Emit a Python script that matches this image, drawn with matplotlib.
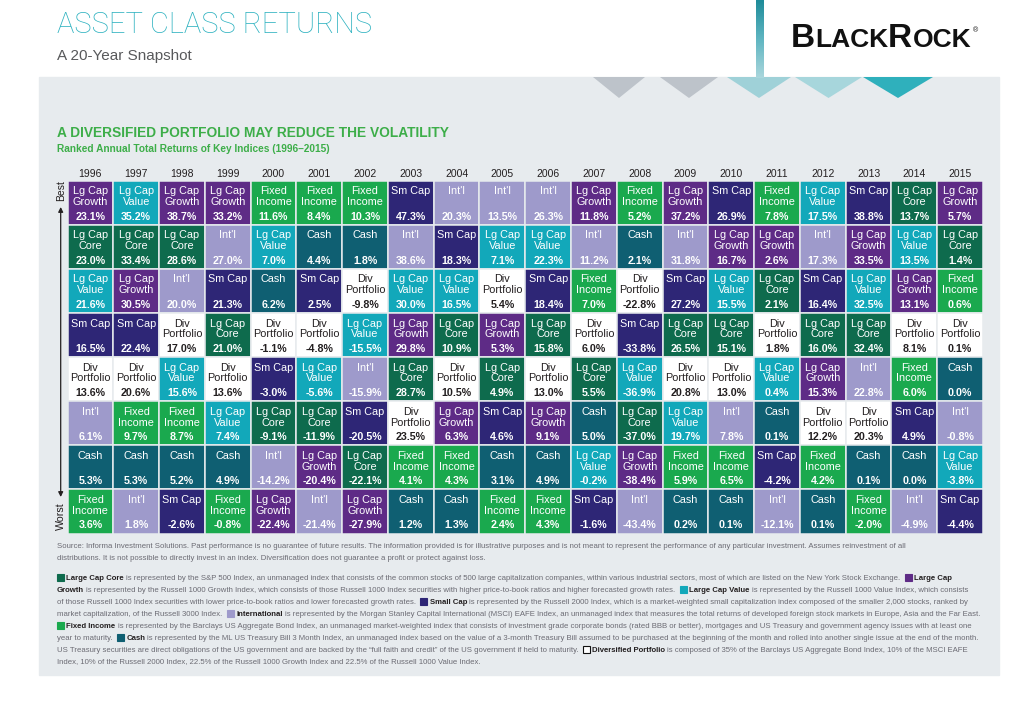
import numpy as np
import matplotlib.pyplot as plt
import matplotlib.font_manager as fm
from matplotlib.patches import Rectangle, Polygon
from matplotlib.colors import LinearSegmentedColormap

plt.rcParams['font.family'] = ['Liberation Sans', 'DejaVu Sans']

# ranked annual returns, best to worst, 1996-2015
years = list(range(1996, 2016))

ranked_assets = [
    ['LGG', 'LGC', 'LGV', 'SM', 'DIV', 'INTL', 'CASH', 'FI'],    # 1996
    ['LGV', 'LGC', 'LGG', 'SM', 'DIV', 'FI', 'CASH', 'INTL'],    # 1997
    ['LGG', 'LGC', 'INTL', 'DIV', 'LGV', 'FI', 'CASH', 'SM'],    # 1998
    ['LGG', 'INTL', 'SM', 'LGC', 'DIV', 'LGV', 'CASH', 'FI'],    # 1999
    ['FI', 'LGV', 'CASH', 'DIV', 'SM', 'LGC', 'INTL', 'LGG'],    # 2000
    ['FI', 'CASH', 'SM', 'DIV', 'LGV', 'LGC', 'LGG', 'INTL'],    # 2001
    ['FI', 'CASH', 'DIV', 'LGV', 'INTL', 'SM', 'LGC', 'LGG'],    # 2002
    ['SM', 'INTL', 'LGV', 'LGG', 'LGC', 'DIV', 'FI', 'CASH'],    # 2003
    ['INTL', 'SM', 'LGV', 'LGC', 'DIV', 'LGG', 'FI', 'CASH'],    # 2004
    ['INTL', 'LGV', 'DIV', 'LGG', 'LGC', 'SM', 'CASH', 'FI'],    # 2005
    ['INTL', 'LGV', 'SM', 'LGC', 'DIV', 'LGG', 'CASH', 'FI'],    # 2006
    ['LGG', 'INTL', 'FI', 'DIV', 'LGC', 'CASH', 'LGV', 'SM'],    # 2007
    ['FI', 'CASH', 'DIV', 'SM', 'LGV', 'LGC', 'LGG', 'INTL'],    # 2008
    ['LGG', 'INTL', 'SM', 'LGC', 'DIV', 'LGV', 'FI', 'CASH'],    # 2009
    ['SM', 'LGG', 'LGV', 'LGC', 'DIV', 'INTL', 'FI', 'CASH'],    # 2010
    ['FI', 'LGG', 'LGC', 'DIV', 'LGV', 'CASH', 'SM', 'INTL'],    # 2011
    ['LGV', 'INTL', 'SM', 'LGC', 'LGG', 'DIV', 'FI', 'CASH'],    # 2012
    ['SM', 'LGG', 'LGV', 'LGC', 'INTL', 'DIV', 'CASH', 'FI'],    # 2013
    ['LGC', 'LGV', 'LGG', 'DIV', 'FI', 'SM', 'CASH', 'INTL'],    # 2014
    ['LGG', 'LGC', 'FI', 'DIV', 'CASH', 'INTL', 'LGV', 'SM'],    # 2015
]

ranked_returns = [
    [23.1, 23.0, 21.6, 16.5, 13.6, 6.1, 5.3, 3.6],
    [35.2, 33.4, 30.5, 22.4, 20.6, 9.7, 5.3, 1.8],
    [38.7, 28.6, 20.0, 17.0, 15.6, 8.7, 5.2, -2.6],
    [33.2, 27.0, 21.3, 21.0, 13.6, 7.4, 4.9, -0.8],
    [11.6, 7.0, 6.2, -1.1, -3.0, -9.1, -14.2, -22.4],
    [8.4, 4.4, 2.5, -4.8, -5.6, -11.9, -20.4, -21.4],
    [10.3, 1.8, -9.8, -15.5, -15.9, -20.5, -22.1, -27.9],
    [47.3, 38.6, 30.0, 29.8, 28.7, 23.5, 4.1, 1.2],
    [20.3, 18.3, 16.5, 10.9, 10.5, 6.3, 4.3, 1.3],
    [13.5, 7.1, 5.4, 5.3, 4.9, 4.6, 3.1, 2.4],
    [26.3, 22.3, 18.4, 15.8, 13.0, 9.1, 4.9, 4.3],
    [11.8, 11.2, 7.0, 6.0, 5.5, 5.0, -0.2, -1.6],
    [5.2, 2.1, -22.8, -33.8, -36.9, -37.0, -38.4, -43.4],
    [37.2, 31.8, 27.2, 26.5, 20.8, 19.7, 5.9, 0.2],
    [26.9, 16.7, 15.5, 15.1, 13.0, 7.8, 6.5, 0.1],
    [7.8, 2.6, 2.1, 1.8, 0.4, 0.1, -4.2, -12.1],
    [17.5, 17.3, 16.4, 16.0, 15.3, 12.2, 4.2, 0.1],
    [38.8, 33.5, 32.5, 32.4, 22.8, 20.3, 0.1, -2.0],
    [13.7, 13.5, 13.1, 8.1, 6.0, 4.9, 0.0, -4.9],
    [5.7, 1.4, 0.6, 0.1, 0.0, -0.8, -3.8, -4.4],
]

asset_labels = {
    'LGG': ['Lg Cap', 'Growth'],
    'LGC': ['Lg Cap', 'Core'],
    'LGV': ['Lg Cap', 'Value'],
    'SM': ['Sm Cap'],
    'INTL': ["Int'l"],
    'FI': ['Fixed', 'Income'],
    'CASH': ['Cash'],
    'DIV': ['Div', 'Portfolio'],
}

asset_colors = {
    'LGG': '#5E2B86',
    'LGC': '#0E6B4D',
    'LGV': '#12A8BA',
    'SM': '#2E2676',
    'INTL': '#9E9ACB',
    'FI': '#1AA94E',
    'CASH': '#0F5F72',
    'DIV': '#FFFFFF',
}

panel_color = '#E7EBEE'
text_dark = '#231F20'
foot_gray = '#6B6B73'

fig = plt.figure(figsize=(10.24, 7.17), dpi=100)
renderer = fig.canvas.get_renderer()

# full-page axes in pixel units for the page furniture
bg = fig.add_axes([0, 0, 1, 1])
bg.axis('off')

bg.add_patch(Rectangle((39, 77), 960, 598, color=panel_color, zorder=0))

# decorative arrows at the top of the panel
tri = [(593, 645, '#BDC3CA'), (660, 718, '#BDC3CA'), (727, 791, '#9FD1D8'),
       (795, 862, '#A7D6DC'), (863, 933, '#2FB0BC')]
for left, right, c in tri:
    bg.add_patch(Polygon([(left, 77), (right, 77), ((left + right) / 2, 98)],
                         closed=True, color=c, lw=0, zorder=1))
stem = LinearSegmentedColormap.from_list('stem', ['#1F8C9A', '#5FB5C1', '#A9D6DC'])
bg.imshow(np.linspace(0, 1, 60).reshape(-1, 1), cmap=stem, aspect='auto',
          extent=(756, 764, 78, 0), zorder=1)
bg.set_xlim(0, 1024)
bg.set_ylim(717, 0)

# titles
bg.text(57, 33, 'ASSET CLASS RETURNS', fontsize=21, family=['Roboto', 'DejaVu Sans'],
        fontweight='light', color='#2EB2C0', va='baseline')
bg.text(57, 60, 'A 20-Year Snapshot', fontsize=11, color='#58595B', va='baseline')
bg.text(57, 137, 'A DIVERSIFIED PORTFOLIO MAY REDUCE THE VOLATILITY', fontsize=9.9,
        fontweight='bold', color='#3DAE49', va='baseline')
bg.text(57, 152, 'Ranked Annual Total Returns of Key Indices (1996\u20132015)', fontsize=7.3,
        fontweight='bold', color='#3DAE49', va='baseline')

# logo in small caps
x = 791
for part, size in [('B', 24), ('LACK', 19), ('R', 24), ('OCK', 19)]:
    t = bg.text(x, 47, part, fontsize=size, fontweight='bold', color='#111111', va='baseline')
    x += t.get_window_extent(renderer).width
bg.text(x + 2, 31, '\u00ae', fontsize=5, color='#111111', va='center')

# best / worst arrow
bg.annotate('', xy=(60.7, 207), xytext=(60.7, 497),
            arrowprops=dict(arrowstyle='<|-|>', color=text_dark, lw=0.9,
                            mutation_scale=7, shrinkA=0, shrinkB=0))
bg.text(60.7, 191, 'Best', rotation=90, fontsize=7.5, color=text_dark, ha='center', va='center')
bg.text(60.7, 516, 'Worst', rotation=90, fontsize=7.7, color=text_dark, ha='center', va='center')

# the ranked grid: x = year index, y = rank
gx = fig.add_axes([67.5 / 1024, 1 - 533.5 / 717, 915.5 / 1024, 353 / 717])
gx.set_xlim(0, 20)
gx.set_ylim(8, 0)
gx.axis('off')

for i, year in enumerate(years):
    gx.text(i + 0.5, -0.08, str(year), ha='center', va='baseline', fontsize=7.5, color=text_dark)
    for r in range(8):
        a = ranked_assets[i][r]
        v = ranked_returns[i][r]
        gx.add_patch(Rectangle((i, r), 1, 1, facecolor=asset_colors[a],
                               edgecolor=panel_color, lw=1.1))
        tc = text_dark if a == 'DIV' else 'white'
        lines = asset_labels[a]
        for k, line in enumerate(lines):
            gx.text(i + 0.5, r + 0.31 + 0.245 * k, line, ha='center', va='baseline',
                    fontsize=7.8, color=tc)
        gx.text(i + 0.5, r + 0.885, f'{v:.1f}%', ha='center', va='baseline',
                fontsize=7.7, fontweight='bold', color=tc)

# footnotes
names = {f.name for f in fm.fontManager.ttflist}
foot_font = 'Liberation Sans Narrow' if 'Liberation Sans Narrow' in names else 'Liberation Sans'

foot_lines = [
    [('n', 'Source: Informa Investment Solutions. Past performance is no guarantee of future results. '
           'The information provided is for illustrative purposes and is not meant to represent the '
           'performance of any particular investment. Assumes reinvestment of all')],
    [('n', 'distributions. It is not possible to directly invest in an index. Diversification does not '
           'guarantee a profit or protect against loss.')],
    [('sq', 'LGC'), ('b', 'Large Cap Core'),
     ('n', ' is represented by the S&P 500 Index, an unmanaged index that consists of the common stocks '
           'of 500 large capitalization companies, within various industrial sectors, most of which are '
           'listed on the New York Stock Exchange.  '),
     ('sq', 'LGG'), ('b', 'Large Cap')],
    [('b', 'Growth'),
     ('n', ' is represented by the Russell 1000 Growth Index, which consists of those Russell 1000 Index '
           'securities with higher price-to-book ratios and higher forecasted growth rates.  '),
     ('sq', 'LGV'), ('b', 'Large Cap Value'),
     ('n', ' is represented by the Russell 1000 Value Index, which consists')],
    [('n', 'of those Russell 1000 Index securities with lower price-to-book ratios and lower forecasted '
           'growth rates.  '),
     ('sq', 'SM'), ('b', 'Small Cap'),
     ('n', ' is represented by the Russell 2000 Index, which is a market-weighted small capitalization '
           'index composed of the smaller 2,000 stocks, ranked by')],
    [('n', 'market capitalization, of the Russell 3000 Index.  '),
     ('sq', 'INTL'), ('b', 'International'),
     ('n', ' is represented by the Morgan Stanley Capital International (MSCI) EAFE Index, an unmanaged '
           'index that measures the total returns of developed foreign stock markets in Europe, Asia and '
           'the Far East.')],
    [('sq', 'FI'), ('b', 'Fixed Income'),
     ('n', ' is represented by the Barclays US Aggregate Bond Index, an unmanaged market-weighted index '
           'that consists of investment grade corporate bonds (rated BBB or better), mortgages and US '
           'Treasury and government agency issues with at least one')],
    [('n', 'year to maturity.  '), ('sq', 'CASH'), ('b', 'Cash'),
     ('n', ' is represented by the ML US Treasury Bill 3 Month Index, an unmanaged index based on the '
           'value of a 3-month Treasury Bill assumed to be purchased at the beginning of the month and '
           'rolled into another single issue at the end of the month.')],
    [('n', 'US Treasury securities are direct obligations of the US government and are backed by the '
           '\u201cfull faith and credit\u201d of the US government if held to maturity.  '),
     ('sq', 'DIV'), ('b', 'Diversified Portfolio'),
     ('n', ' is composed of 35% of the Barclays US Aggregate Bond Index, 10% of the MSCI EAFE')],
    [('n', 'Index, 10% of the Russell 2000 Index, 22.5% of the Russell 1000 Growth Index and 22.5% of '
           'the Russell 1000 Value Index.')],
]
foot_y = [546, 558, 578, 590, 602, 614, 626, 638, 650, 662]


def draw_line(runs, y, size, keep=True):
    # lays out one footnote line run by run, returns the end x
    x = 57
    made = []
    space_w = size / 72 * 100 * 0.278
    for kind, content in runs:
        if kind == 'sq':
            edge = '#111111' if content == 'DIV' else asset_colors[content]
            made.append(bg.add_patch(Rectangle((x, y - 3.6), 7, 7, facecolor=asset_colors[content],
                                               edgecolor=edge, lw=0.8)))
            x += 9.5
            continue
        lead = len(content) - len(content.lstrip(' '))
        trail = len(content) - len(content.rstrip(' '))
        x += lead * space_w
        weight = 'bold' if kind == 'b' else 'normal'
        color = text_dark if kind == 'b' else foot_gray
        t = bg.text(x, y, content.strip(' '), fontsize=size, fontweight=weight,
                    family=foot_font, color=color, va='center')
        made.append(t)
        x += t.get_window_extent(renderer).width + trail * space_w
    if not keep:
        for m in made:
            m.remove()
    return x


# one font size for all footnotes, chosen so the longest line stays inside the panel
widths = [draw_line(runs, 0, 10, keep=False) - 57 for runs in foot_lines]
foot_size = 10 * 920 / max(widths)

for runs, y in zip(foot_lines, foot_y):
    draw_line(runs, y, foot_size)

fig.savefig('out.png', dpi=100, facecolor='white')
